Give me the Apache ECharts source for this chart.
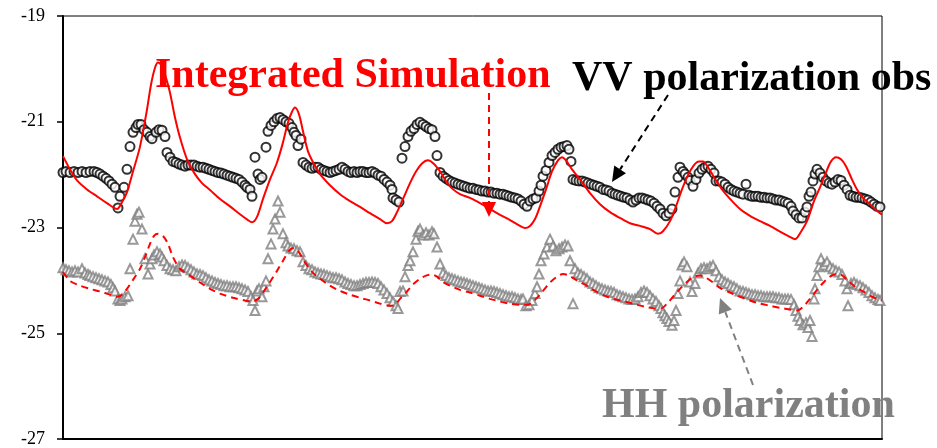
<!DOCTYPE html>
<html>
<head>
<meta charset="utf-8">
<script src="https://cdn.jsdelivr.net/npm/echarts@6/dist/echarts.min.js"></script>
<style>
  html, body { margin: 0; padding: 0; background: #fff; }
  #chart { width: 937px; height: 448px; }
</style>
</head>
<body>
<div id="chart"></div>
<script>
// Backscatter (dB) against day of the season.
const yTicks = { min: -27, max: -19, step: 2 };
const dayRange = { min: 0, max: 204.75 };

// VV polarization, observed [day, dB]
const vvObs = [
  [0,-21.96],[0.75,-21.94],[1.75,-21.96],[2.75,-21.94],[3.75,-21.96],[4.75,-21.94],[5.75,-21.96],[6.75,-21.94],
  [7.75,-21.94],[8.5,-21.96],[9.25,-21.99],[10,-22.03],[10.75,-22.07],[11.5,-22.12],[12.25,-22.18],[13,-22.24],
  [13.75,-22.63],[14.25,-22.41],[15.25,-22.24],[16,-21.90],[16.75,-21.47],[17.5,-21.20],[18.25,-21.11],[18.75,-21.05],
  [19.5,-21.05],[20.25,-21.15],[21,-21.20],[21.75,-21.28],[22.25,-21.32],[23.25,-21.20],[24,-21.15],[24.75,-21.16],
  [25.5,-21.28],[26,-21.58],[26.75,-21.67],[27.5,-21.75],[28.25,-21.77],[29,-21.80],[29.75,-21.82],[30.5,-21.84],
  [31.25,-21.82],[32,-21.82],[32.75,-21.82],[33.5,-21.84],[34.25,-21.86],[35,-21.86],[35.75,-21.88],[36.5,-21.90],
  [37.25,-21.92],[38,-21.94],[38.75,-21.96],[39.5,-21.97],[40.25,-21.99],[41,-22.01],[41.75,-22.03],[42.5,-22.05],
  [43.25,-22.07],[44,-22.09],[44.75,-22.14],[45.5,-22.20],[46,-22.24],[46.75,-22.28],[47.25,-22.41],[48,-21.67],
  [48.75,-21.99],[49.25,-22.09],[49.75,-22.05],[50.75,-21.48],[51.25,-21.18],[52,-21.07],[52.75,-21.00],[53.5,-20.94],
  [54.25,-20.92],[55,-20.96],[55.75,-21.00],[56.5,-21.03],[57.25,-21.11],[57.75,-21.20],[58.25,-21.26],[58.75,-21.45],
  [59.5,-21.33],[60,-21.77],[60.75,-21.82],[61.5,-21.86],[62.25,-21.88],[63,-21.86],[63.75,-21.86],[64.5,-21.90],
  [65.25,-21.92],[66,-21.94],[66.75,-21.96],[67.5,-21.94],[68.25,-21.92],[69,-21.90],[69.75,-21.86],[70.5,-21.90],
  [71.25,-21.94],[72,-21.96],[72.75,-21.94],[73.5,-21.96],[74.25,-21.94],[75,-21.94],[75.75,-21.96],[76.5,-21.96],
  [77.25,-21.94],[78,-21.97],[78.75,-22.01],[79.5,-22.03],[80.25,-22.09],[81,-22.14],[81.75,-22.20],[82.25,-22.28],
  [82.5,-22.44],[83.25,-22.48],[84,-22.52],[84.75,-21.69],[85.5,-21.47],[86.25,-21.28],[87,-21.18],[87.75,-21.13],
  [88.5,-21.05],[89.25,-21.01],[90,-21.05],[90.75,-21.09],[91.5,-21.13],[92.25,-21.15],[93,-21.28],[93.5,-21.64],
  [94.25,-21.96],[95,-22.03],[95.75,-22.07],[96.5,-22.11],[97.25,-22.14],[98,-22.16],[98.75,-22.18],[99.5,-22.20],
  [100.25,-22.22],[101,-22.24],[101.75,-22.26],[102.5,-22.26],[103.25,-22.28],[104,-22.29],[104.75,-22.31],[105.5,-22.31],
  [106.25,-22.33],[107,-22.33],[107.75,-22.35],[108.5,-22.35],[109.25,-22.37],[110,-22.37],[110.75,-22.39],[111.5,-22.41],
  [112.25,-22.43],[113,-22.44],[113.75,-22.46],[114.5,-22.50],[115.25,-22.56],[116,-22.60],[116.75,-22.50],[117.5,-22.46],
  [118.25,-22.44],[119,-22.31],[119.5,-22.20],[120,-22.03],[120.75,-21.92],[121.5,-21.77],[122.25,-21.64],[123,-21.58],
  [123.75,-21.52],[124.5,-21.48],[125.25,-21.47],[126,-21.45],[126.5,-21.52],[127,-21.75],[127.5,-22.09],[128.25,-22.11],
  [129,-22.12],[129.75,-22.12],[130.5,-22.14],[131.25,-22.16],[132,-22.18],[132.75,-22.20],[133.5,-22.22],[134.25,-22.24],
  [135,-22.28],[135.75,-22.29],[136.5,-22.31],[137.25,-22.35],[138,-22.37],[138.75,-22.39],[139.5,-22.41],[140.25,-22.43],
  [141,-22.44],[141.75,-22.48],[142.5,-22.52],[143.25,-22.48],[144,-22.44],[144.75,-22.44],[145.5,-22.46],[146.25,-22.48],
  [147,-22.50],[147.75,-22.54],[148.5,-22.60],[149.25,-22.65],[150,-22.73],[150.75,-22.78],[151.5,-22.73],[152.25,-22.65],
  [153,-22.33],[153.75,-22.05],[154.25,-21.86],[155,-21.94],[155.5,-21.99],[156.25,-22.05],[156.75,-22.11],[157.5,-22.22],
  [158.25,-22.09],[159,-21.97],[159.75,-21.90],[160.5,-21.86],[161.25,-21.84],[162,-21.90],[162.75,-21.97],[163.25,-22.12],
  [164,-22.12],[164.75,-22.14],[165.5,-22.18],[166.25,-22.24],[167,-22.28],[167.75,-22.31],[168.5,-22.33],[169.25,-22.35],
  [170,-22.37],[170.75,-22.18],[171.5,-22.39],[172.25,-22.41],[173,-22.41],[173.75,-22.41],[174.5,-22.43],[175.25,-22.43],
  [176,-22.44],[176.75,-22.44],[177.5,-22.46],[178.25,-22.48],[179,-22.48],[179.75,-22.50],[180.5,-22.52],[181.25,-22.54],
  [182,-22.60],[182.5,-22.69],[183.25,-22.76],[184,-22.82],[184.75,-22.82],[185.5,-22.71],[186,-22.61],[186.5,-22.41],
  [187,-22.33],[187.5,-22.12],[188,-21.99],[188.5,-21.90],[189.25,-21.97],[190,-22.05],[190.75,-22.12],[191.5,-22.16],
  [192.25,-22.18],[193,-22.14],[193.75,-22.09],[194.5,-22.11],[195.25,-22.20],[196,-22.28],[196.75,-22.39],[197.5,-22.41],
  [198.25,-22.43],[199,-22.43],[199.75,-22.44],[200.5,-22.46],[201.25,-22.48],[202,-22.52],[202.75,-22.56],[203.5,-22.60],
  [204.25,-22.61]
];

// HH polarization, observed [day, dB]
const hhObs = [
  [0,-23.76],[0.75,-23.80],[1.5,-23.82],[2.25,-23.84],[3,-23.82],[3.75,-23.84],[4.75,-23.78],[5.5,-23.86],
  [6.25,-23.89],[6.75,-23.91],[7.5,-23.93],[8.25,-23.95],[9,-23.97],[9.75,-23.99],[10.5,-24.01],[11.25,-24.03],
  [12,-24.08],[12.5,-24.14],[13,-24.20],[13.75,-24.35],[14.25,-24.38],[14.75,-24.35],[15.5,-24.31],[16.25,-24.29],
  [16.75,-23.78],[17.5,-23.22],[18,-22.88],[18.5,-22.75],[19,-22.71],[19.75,-23.03],[20.5,-23.59],[21.25,-23.88],
  [21.75,-23.69],[22.25,-23.59],[22.75,-23.52],[23.5,-23.46],[24.25,-23.50],[24.75,-23.56],[25.25,-23.63],[26,-23.72],
  [26.75,-23.78],[27.5,-23.80],[28.25,-23.82],[29,-23.74],[29.75,-23.71],[30.5,-23.72],[31.25,-23.76],[32,-23.80],
  [32.75,-23.84],[33.5,-23.88],[34.25,-23.89],[35,-23.91],[35.75,-23.95],[36.5,-23.99],[37.25,-24.01],[38,-24.04],
  [38.75,-24.06],[39.5,-24.08],[40.25,-24.10],[41,-24.10],[41.75,-24.12],[42.5,-24.12],[43.25,-24.12],[44,-24.14],
  [44.75,-24.16],[45.5,-24.18],[46.25,-24.21],[47,-24.31],[47.5,-24.38],[48,-24.57],[48.5,-24.20],[49,-24.16],
  [49.75,-24.31],[50.25,-24.12],[50.75,-24.01],[51.25,-23.59],[52,-23.31],[52.5,-23.03],[53,-22.84],[53.75,-22.50],
  [54.25,-22.71],[55,-23.12],[55.75,-23.29],[56.25,-23.35],[57,-23.39],[57.75,-23.40],[58.5,-23.44],[59.25,-23.46],
  [60,-23.65],[60.75,-23.72],[61.5,-23.78],[62.25,-23.80],[63,-23.84],[63.75,-23.86],[64.5,-23.88],[65.25,-23.89],
  [66,-23.91],[66.75,-23.93],[67.5,-23.95],[68.25,-23.95],[69,-23.97],[69.75,-23.99],[70.5,-24.03],[71.25,-24.06],
  [72,-24.08],[72.75,-24.10],[73.5,-24.10],[74.25,-24.08],[75,-24.06],[75.75,-24.04],[76.5,-24.04],[77.25,-24.03],
  [78,-24.04],[78.75,-24.06],[79.5,-24.12],[80.25,-24.18],[81,-24.25],[81.75,-24.33],[82.5,-24.40],[83.25,-24.48],
  [83.75,-24.53],[84.25,-24.21],[85,-24.20],[85.5,-23.93],[86.25,-23.72],[86.75,-23.63],[87.5,-23.46],[88.25,-23.22],
  [88.75,-23.07],[89.25,-23.03],[90,-23.14],[90.75,-23.10],[91.5,-23.14],[92.25,-23.08],[92.75,-23.12],[93.5,-23.37],
  [94.25,-23.69],[95,-23.86],[95.75,-23.91],[96.5,-23.95],[97.25,-23.97],[98,-23.99],[98.75,-24.01],[99.5,-24.03],
  [100.25,-24.04],[101,-24.06],[101.75,-24.08],[102.5,-24.10],[103.25,-24.12],[104,-24.14],[104.75,-24.16],[105.5,-24.18],
  [106.25,-24.20],[107,-24.20],[107.75,-24.21],[108.5,-24.23],[109.25,-24.25],[110,-24.27],[110.75,-24.29],[111.5,-24.31],
  [112.25,-24.31],[113,-24.33],[113.75,-24.35],[114.5,-24.36],[115,-24.35],[115.75,-24.48],[116.5,-24.46],[117.25,-24.38],
  [118,-24.25],[118.5,-24.12],[119,-23.88],[119.5,-23.63],[120.25,-23.50],[121,-23.37],[121.75,-23.22],[122.5,-23.35],
  [123.25,-23.44],[124,-23.40],[124.75,-23.37],[125.5,-23.33],[126.25,-23.35],[126.75,-23.63],[127.5,-24.44],[128,-23.78],
  [128.75,-23.86],[129.5,-23.89],[130.25,-23.93],[131,-23.97],[131.75,-24.03],[132.5,-24.06],[133.25,-24.10],[134,-24.14],
  [134.75,-24.16],[135.5,-24.18],[136.25,-24.20],[137,-24.21],[137.75,-24.23],[138.5,-24.27],[139.25,-24.29],[140,-24.31],
  [140.75,-24.33],[141.5,-24.35],[142.25,-24.36],[143,-24.35],[143.75,-24.31],[144.5,-24.23],[145.25,-24.20],[146,-24.23],
  [146.75,-24.29],[147.5,-24.35],[148.25,-24.40],[149,-24.48],[149.5,-24.53],[150,-24.61],[150.5,-24.67],[151,-24.72],
  [151.5,-24.78],[152.25,-24.85],[152.75,-24.76],[153.25,-24.57],[153.75,-24.25],[154.25,-24.01],[154.75,-23.71],[155.25,-23.65],
  [156,-23.74],[156.75,-24.03],[157.25,-24.21],[158,-24.06],[158.75,-23.86],[159.5,-23.78],[160.25,-23.76],[161,-23.78],
  [161.75,-23.74],[162.5,-23.72],[163.25,-23.82],[164,-23.93],[164.75,-23.99],[165.5,-24.03],[166.25,-24.06],[167,-24.10],
  [167.75,-24.12],[168.5,-24.16],[169.25,-24.20],[170,-24.21],[170.75,-24.23],[171.5,-24.25],[172.25,-24.27],[173,-24.27],
  [173.75,-24.29],[174.5,-24.29],[175.25,-24.31],[176,-24.31],[176.75,-24.31],[177.5,-24.31],[178.25,-24.33],[179,-24.33],
  [179.75,-24.35],[180.5,-24.35],[181.25,-24.35],[182,-24.36],[182.75,-24.46],[183.25,-24.57],[183.75,-24.68],[184.25,-24.76],
  [185,-24.84],[185.75,-24.80],[186.25,-24.89],[186.75,-24.76],[187.25,-25.06],[187.75,-24.35],[188,-24.16],[188.5,-23.91],
  [189,-23.74],[189.5,-23.59],[190.25,-23.71],[191,-23.65],[191.75,-23.74],[192.5,-23.78],[193.25,-23.82],[194,-23.84],
  [194.75,-23.89],[195.5,-24.01],[196,-24.16],[196.25,-24.48],[197,-24.06],[197.75,-24.04],[198.5,-24.08],[199.25,-24.10],
  [200,-24.14],[200.75,-24.18],[201.5,-24.23],[202.25,-24.29],[203,-24.33],[203.75,-24.36],[204.25,-24.38]
];

// Integrated simulation, VV [day, dB]
const vvSim = [
  [0,-21.65],[1.75,-21.90],[3.5,-22.11],[6,-22.28],[8.5,-22.41],[11,-22.54],[13.5,-22.65],[14.75,-22.52],
  [16,-22.33],[17.5,-21.94],[19.25,-21.47],[21,-20.77],[22,-20.30],[23,-19.98],[23.75,-19.88],[24.75,-19.94],
  [25.75,-20.17],[26.75,-20.45],[28,-20.92],[29.25,-21.30],[31,-21.71],[33,-21.99],[34.75,-22.16],[36.75,-22.29],
  [39.25,-22.46],[41.75,-22.60],[44.25,-22.75],[46.25,-22.86],[47.25,-22.90],[48.5,-22.80],[50,-22.46],[51.75,-22.09],
  [53.5,-21.77],[55,-21.39],[56.25,-21.01],[57.25,-20.81],[58,-20.73],[59,-20.86],[60,-21.18],[61.25,-21.56],
  [62.75,-21.80],[64.25,-21.99],[66.75,-22.20],[69.25,-22.37],[71.75,-22.50],[74.25,-22.61],[76.75,-22.73],[79.25,-22.84],
  [81,-22.92],[82.25,-22.88],[83.5,-22.71],[85,-22.46],[86.75,-22.16],[88.25,-21.94],[89.75,-21.79],[91.25,-21.73],
  [92.75,-21.80],[94.25,-21.94],[95.75,-22.12],[97.25,-22.26],[99.25,-22.37],[101.75,-22.44],[104.25,-22.54],[106.75,-22.65],
  [109.25,-22.76],[111.75,-22.86],[114.25,-22.97],[115.5,-23.01],[116.75,-22.97],[118,-22.84],[119.25,-22.60],[120.75,-22.28],
  [122.25,-21.94],[123.75,-21.73],[124.75,-21.67],[125.75,-21.73],[127.25,-21.90],[129.25,-22.09],[131.75,-22.35],[134.25,-22.56],
  [136.75,-22.71],[139.25,-22.82],[141.75,-22.92],[144.25,-22.97],[146.75,-23.03],[148.75,-23.12],[150,-23.07],[151.75,-22.88],
  [153.25,-22.60],[154.75,-22.28],[156.25,-22.01],[157.75,-21.82],[159,-21.75],[160,-21.75],[161.25,-21.86],[162.75,-22.05],
  [164.75,-22.28],[166.75,-22.46],[169.25,-22.65],[171.75,-22.78],[174.25,-22.88],[176.75,-22.97],[179.25,-23.08],[181.25,-23.16],
  [183,-23.22],[184.5,-23.08],[186,-22.88],[187.75,-22.50],[189.25,-22.24],[190.75,-21.96],[192,-21.75],[193.25,-21.67],
  [194.5,-21.71],[195.75,-21.84],[197,-22.05],[198.5,-22.28],[200,-22.44],[201.75,-22.56],[203.25,-22.67],[204.75,-22.76]
];

// Integrated simulation, HH [day, dB]
const hhSim = [
  [0,-23.84],[1.75,-24.01],[4.25,-24.10],[6.75,-24.16],[9.25,-24.21],[11.75,-24.27],[13.5,-24.31],[14.75,-24.27],
  [16,-24.16],[17.5,-23.99],[19.25,-23.78],[20.5,-23.56],[21.75,-23.31],[22.75,-23.16],[23.75,-23.12],[25,-23.16],
  [26.25,-23.31],[27.5,-23.56],[29.25,-23.78],[31.75,-23.91],[34.25,-24.04],[36.75,-24.16],[39.25,-24.25],[42.5,-24.33],
  [45.5,-24.38],[47.25,-24.40],[48.75,-24.35],[50,-24.23],[51.75,-24.03],[53.5,-23.82],[55,-23.63],[56.5,-23.44],
  [57.75,-23.39],[58.75,-23.44],[60.25,-23.63],[62.25,-23.84],[64.25,-23.97],[66.75,-24.10],[69.25,-24.20],[71.75,-24.27],
  [74.25,-24.33],[76.75,-24.38],[79.25,-24.44],[81.75,-24.48],[83,-24.46],[84.25,-24.35],[86,-24.21],[87.75,-24.06],
  [89.25,-23.97],[90.75,-23.91],[92.25,-23.89],[93.5,-23.93],[95,-24.03],[96.75,-24.10],[99.25,-24.18],[101.75,-24.23],
  [104.25,-24.29],[106.75,-24.35],[109.25,-24.40],[111.75,-24.44],[114.25,-24.46],[116,-24.46],[117.25,-24.42],[118.5,-24.33],
  [120,-24.20],[121.75,-24.04],[123.5,-23.93],[125,-23.88],[126.5,-23.91],[128.25,-23.99],[130.5,-24.08],[133,-24.20],
  [136,-24.31],[139.25,-24.38],[142.5,-24.44],[145.5,-24.50],[148,-24.53],[149.5,-24.53],[151,-24.44],[152.5,-24.31],
  [154.25,-24.16],[156,-24.03],[157.75,-23.93],[159.25,-23.91],[160.75,-23.95],[162.5,-24.04],[164.25,-24.14],[166.75,-24.23],
  [169.25,-24.31],[171.75,-24.38],[174.25,-24.44],[176.75,-24.48],[179.25,-24.52],[181.75,-24.55],[183.5,-24.57],[185,-24.50],
  [186.75,-24.35],[188.5,-24.18],[190.25,-24.03],[191.75,-23.93],[193.25,-23.88],[194.5,-23.89],[196,-23.99],[198,-24.12],
  [200,-24.21],[202.25,-24.31],[204.75,-24.38]
];

const labelSim = 'Integrated Simulation';
const labelVV = 'VV polarization obs';
const labelHH = 'HH polarization';

const serif = '"Liberation Serif", "Times New Roman", serif';
const RED = '#ff0000';
const GREY = '#808080';

const chart = echarts.init(document.getElementById('chart'), null, { renderer: 'canvas' });

// dashed leader with a filled arrow head at (tx, ty)
function arrow(x0, y0, tx, ty, color) {
  const dx = tx - x0, dy = ty - y0;
  const len = Math.hypot(dx, dy);
  const ux = dx / len, uy = dy / len;
  const head = 15, half = 7;
  const bx = tx - ux * head, by = ty - uy * head;
  const px = -uy * half, py = ux * half;
  return [
    { type: 'line', z: 50, shape: { x1: x0, y1: y0, x2: bx, y2: by },
      style: { stroke: color, lineWidth: 2, lineDash: [7, 5] } },
    { type: 'polygon', z: 50, shape: { points: [[tx, ty], [bx + px, by + py], [bx - px, by - py]] },
      style: { fill: color } }
  ];
}

// large bold caption; (x, top) is the top-left of the text box
function bigText(text, x, top, color) {
  return { type: 'text', z: 40, x: x, y: top,
    style: { text: text, fill: color, font: 'bold 42px ' + serif } };
}

chart.setOption({
  animation: false,
  backgroundColor: '#ffffff',
  grid: { left: 63, right: 55, top: 16, bottom: 7, show: true, borderColor: '#000', borderWidth: 1, containLabel: false },
  xAxis: {
    type: 'value', min: dayRange.min, max: dayRange.max,
    axisLine: { show: true, onZero: false, lineStyle: { color: '#000', width: 2 } },
    axisTick: { show: false }, axisLabel: { show: false }, splitLine: { show: false }
  },
  yAxis: {
    type: 'value', min: yTicks.min, max: yTicks.max, interval: yTicks.step,
    axisLine: { show: true, lineStyle: { color: '#000', width: 2 } },
    axisTick: { show: true, inside: false, length: 6, lineStyle: { color: '#000', width: 1.5 } },
    axisLabel: { color: '#000', fontFamily: serif, fontSize: 18, margin: 18 },
    splitLine: { show: false }
  },
  series: [
    { name: 'VV obs', type: 'scatter', data: vvObs, symbol: 'emptyCircle', symbolSize: 9,
      itemStyle: { color: '#000', borderColor: '#000', borderWidth: 1.5 }, z: 3 },
    { name: 'HH obs', type: 'scatter', data: hhObs, symbol: 'emptyTriangle', symbolSize: 9,
      itemStyle: { color: GREY, borderColor: GREY, borderWidth: 2 }, z: 3 },
    { name: 'VV sim', type: 'line', data: vvSim, showSymbol: false, symbol: 'none', smooth: 0.3,
      lineStyle: { color: RED, width: 2 }, z: 4 },
    { name: 'HH sim', type: 'line', data: hhSim, showSymbol: false, symbol: 'none', smooth: 0.3,
      lineStyle: { color: RED, width: 2, type: [7, 5] }, z: 4 }
  ],
  graphic: [
    bigText(labelSim, 155, 55, RED),
    bigText(labelVV, 572, 58, '#000'),
    bigText(labelHH, 602, 385, GREY),
    ...arrow(489, 93, 489, 217, RED),
    ...arrow(668, 95, 612, 182, '#000'),
    ...arrow(753, 385, 720, 298, GREY)
  ]
});
</script>
</body>
</html>
